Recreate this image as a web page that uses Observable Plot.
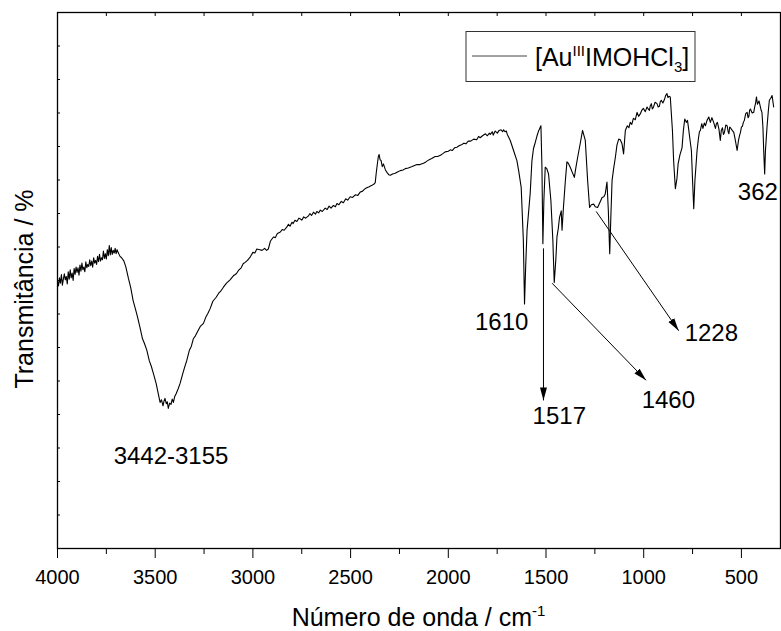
<!DOCTYPE html>
<html><head><meta charset="utf-8">
<script src="https://cdn.jsdelivr.net/npm/d3@7"></script>
<script src="https://cdn.jsdelivr.net/npm/@observablehq/plot@0.6"></script>
<style>
body{margin:0;background:#fff;}
svg{font-family:"Liberation Sans",Arial,sans-serif;}
</style>
</head><body><div id="chart"></div>
<script>
// Spectrum (wavenumber in cm-1, transmittance in arbitrary %)
const wavenumber = [4000,3995,3990,3985,3980,3975,3970,3965,3960,3955,3950,3945,3940,3935,3930,3925,3920,3915,3910,3905,3900,3895,3890,3885,3880,3875,3870,3865,3860,3855,3850,3845,3840,3835,3830,3825,3820,3815,3810,3805,3800,3795,3790,3785,3780,3775,3770,3765,3760,3755,3750,3745,3740,3735,3730,3725,3720,3715,3710,3705,3700,3695,3690,3685,3680,3672,
3660,3650,3637,3625,3613,3600,3590,3578,3565,3555,3543,3530,3520,3509,3495,3485,3475,3468,3460,3455,3450,3443,3438,3433,3426,3419,3413,3407,3400,3393,3383,3373,3360,3350,3338,3325,3315,3305,3295,3281,3268,3253,3240,3230,3219,3205,3188,3175,3165,3151,3135,3117,3100,3085,3074,3060,3050,3040,3028,3014,3000,2990,2980,2965,2953,2940,2930,2921,2910,2895,2885,2875,2861,2850,2840,2826,2818,2810,2800,2794,2785,2775,2765,2758,2750,2740,2730,2717,2708,2700,2690,2680,2673,2663,2655,2645,2630,2620,2610,2600,2588,2578,2570,2560,2548,2537,2525,2515,2502,2490,2475,2463,2451,2440,2430,2420,2405,2391,2380,2374,2369,2364,2358,2354,2349,2344,2338,2332,2322,2313,2305,2297,2285,2272,2260,2246,2232,2220,2205,2185,2170,2160,2145,2127,2115,2100,2085,2067,2055,2040,2030,2016,2000,1990,1980,1968,1956,1945,1930,1920,1910,1898,1885,1870,1855,1845,1837,1825,1810,1800,1790,1785,1775,1770,1760,1749,1740,1730,1722,1717,1710,1703,1698,
1683,1666,1649,1640,1627,1616,1610,1604,1597,1581,1572,1564,1555,1546,1537,1526,1521,1516,1511,1504,1496,1487,1475,1465,1458,1450,1444,1437,1431,1422,1418,1412,1401,1393,1386,1376,1365,1355,1348,1338,1324,1313,1299,1287,1277,1268,1256,1248,1236,1225,1213,1204,1197,1188,1181,1174,1168,1162,1154,1145,1137,1128,1120,1111,1103,1094,1084,1076,1069,1061,1053,1043,1034,1026,1017,1010,1002,992,983,977,971,966,961,956,951,942,932,926,920,915,910,902,894,888,881,876,871,864,853,847,838,830,824,815,804,797,790,782,776,770,764,756,749,744,738,727,720,715,710,703,697,690,684,676,667,659,651,642,633,628,623,615,608,603,597,592,587,580,573,568,564,560,556,547,539,531,522,515,510,505,500,495,490,485,478,471,466,462,458,454,445,437,432,428,423,418,410,403,399,395,390,386,381,377,369,362,357,350,343,335,326,319,312,304];
const transmittance = [39.9,39.2,40.4,39.6,40.9,39.3,40.2,41.0,40.1,40.6,39.5,41.3,40.2,41.6,40.4,41.1,40.0,41.8,40.9,42.0,41.2,41.9,40.8,42.3,41.4,42.6,41.6,42.0,41.3,42.8,41.9,42.4,42.1,43.1,42.2,42.9,42.0,43.4,42.6,43.0,42.4,43.6,42.8,43.9,42.9,43.4,43.1,44.4,43.3,44.0,43.2,44.6,43.7,45.2,43.8,44.9,43.9,44.5,44.1,44.8,44.0,44.6,44.2,43.9,43.6,43.4,
42.9,42.0,40.3,38.9,37.0,35.6,34.5,33.0,31.3,30.6,29.6,28.0,27.2,26.1,24.6,23.2,21.8,22.2,21.3,22.0,22.4,21.6,21.9,20.9,21.7,21.5,22.3,21.8,22.7,23.1,23.8,24.6,26.0,27.0,28.1,29.6,30.2,31.3,31.7,32.5,33.2,33.6,34.6,35.1,35.8,36.9,37.5,38.1,38.4,39.0,39.6,40.1,40.7,41.0,41.5,41.9,42.5,42.7,43.0,43.5,44.2,44.1,44.7,44.6,44.5,44.8,44.5,44.7,45.9,46.5,46.4,47.0,47.2,47.6,47.5,48.0,48.4,48.1,48.7,48.5,49.0,48.8,49.3,49.2,49.0,49.5,49.3,49.6,50.0,49.7,50.2,49.9,50.3,50.1,50.5,50.3,50.8,50.6,51.1,50.8,51.2,51.0,51.5,51.3,51.8,51.6,52.2,52.0,52.5,52.4,52.8,52.7,53.2,53.3,53.6,53.8,54.0,54.2,54.4,54.6,56.0,57.2,58.5,58.8,58.0,57.9,57.0,57.4,56.5,56.1,55.8,55.7,55.9,56.0,56.2,56.4,56.5,56.7,56.8,57.0,57.2,57.3,57.3,57.5,57.7,58.0,58.2,58.5,58.5,58.7,58.9,59.2,59.3,59.5,59.4,59.8,59.9,60.1,60.3,60.5,60.4,60.8,60.8,61.1,61.0,61.5,61.3,61.6,61.9,61.6,62.0,61.8,62.2,61.7,62.3,62.0,62.4,62.5,62.2,62.5,62.2,62.3,61.8,
60.9,59.4,57.9,56.4,53.9,46.0,36.5,42.2,47.5,53.0,57.9,59.7,60.6,61.6,62.4,63.1,57.2,45.5,51.9,56.9,56.7,55.9,51.9,46.0,39.7,43.0,46.5,47.8,49.4,50.4,47.5,50.4,54.9,57.7,57.5,56.9,56.1,55.4,56.7,58.4,60.6,62.4,60.9,54.9,50.9,51.3,51.4,51.0,50.9,51.6,52.4,52.5,52.9,54.7,50.4,44.0,49.7,54.9,56.7,58.4,60.2,61.1,61.0,60.4,58.9,62.4,63.1,62.8,63.6,63.3,64.2,64.0,65.1,64.5,64.9,65.4,65.7,65.2,65.9,65.6,65.4,66.1,66.4,65.6,65.8,66.6,66.4,65.9,66.0,66.7,66.9,66.5,67.0,67.6,67.9,67.3,67.5,67.4,62.4,57.9,53.7,55.2,57.4,58.7,59.8,62.4,64.1,63.6,63.9,62.6,61.2,59.4,54.2,50.7,54.9,59.4,61.2,62.2,62.4,63.4,62.7,63.5,63.1,63.9,64.4,63.6,64.3,63.6,62.7,63.4,63.6,62.6,60.9,62.4,62.8,61.8,62.1,63.2,63.1,62.2,61.9,62.9,62.8,62.4,62.1,60.9,59.4,60.9,61.6,62.1,62.9,63.0,63.6,63.9,64.9,65.1,64.3,64.5,65.4,65.6,65.0,65.1,65.9,66.4,67.4,66.3,66.8,65.9,65.4,65.1,62.9,59.4,55.9,59.4,62.9,65.4,66.9,67.2,67.6,65.9];

// Axis ticks
const xTicks = [4000,3500,3000,2500,2000,1500,1000,500];
const xMinor = [3750,3250,2750,2250,1750,1250,750];
const yTicks = [0,5,10,15,20,25,30,35,40,45,50,55,60,65,70,75,80];

// Peak annotations
const labelText = ["3442-3155","1610","1517","1460","1228","362"];
const labelX = [3419,1727,1432,874,654,416];
const labelY = [13.8,33.8,19.7,22.1,32.1,53.2];

// Arrows (from peak to label)
const arrowX1 = [1513,1469,1243];
const arrowY1 = [44.8,39.6,50.3];
const arrowX2 = [1513,988,821];
const arrowY2 = [22.1,25.1,32.5];

const spectrum = wavenumber.map((w,i)=>({w, t: transmittance[i]}));
const labels = labelText.map((s,i)=>({s, x: labelX[i], y: labelY[i]}));
const arrows = arrowX1.map((x1,i)=>({x1, y1: arrowY1[i], x2: arrowX2[i], y2: arrowY2[i]}));

const W = 781, H = 631, mL = 57, mR = 1, mT = 12, mB = 83;

const svg = Plot.plot({
  width: W, height: H,
  marginLeft: mL, marginRight: mR, marginTop: mT, marginBottom: mB,
  style: {fontFamily: '"Liberation Sans", Arial, sans-serif', fontSize: "20px", color: "black", background: "white"},
  x: {domain: [4000, 300]},
  y: {domain: [0, 80]},
  marks: [
    Plot.axisX(xTicks, {anchor: "bottom", tickSize: 10, tickPadding: 11, fontSize: 20, tickFormat: d => String(d), label: null}),
    Plot.axisX(xMinor, {anchor: "bottom", tickSize: 6, fill: "none", label: null}),
    Plot.axisX(xTicks.concat(xMinor), {anchor: "top", tickSize: -3, fill: "none", label: null}),
    Plot.axisY(yTicks, {anchor: "left", tickSize: -3, fill: "none", label: null}),
    Plot.frame({stroke: "black", strokeWidth: 1.3}),
    Plot.line(spectrum, {x: "w", y: "t", stroke: "black", strokeWidth: 1.1}),
    Plot.link(arrows, {x1: "x1", y1: "y1", x2: "x2", y2: "y2", stroke: "black", strokeWidth: 1}),
    Plot.text(labels, {x: "x", y: "y", text: "s", fontSize: 24, fill: "black", textAnchor: "middle"})
  ]
});

const s = d3.select(svg);
// filled arrowheads
const defs = s.append("defs");
defs.append("marker").attr("id","ah").attr("viewBox","0 -4 13 8")
  .attr("refX",13).attr("refY",0).attr("markerWidth",13).attr("markerHeight",8)
  .attr("markerUnits","userSpaceOnUse").attr("orient","auto")
  .append("path").attr("d","M0,-3.5L13,0L0,3.5Z").attr("fill","black");
s.selectAll('g[aria-label="link"] path').attr("marker-end","url(#ah)");

// axis titles
const cx = mL + (W - mL - mR) / 2;
const xt = s.append("text").attr("x", cx).attr("y", 626).attr("text-anchor","middle")
  .attr("font-size", 25).attr("fill","black");
xt.append("tspan").text("Número de onda / cm");
xt.append("tspan").attr("dy", -10).attr("font-size", 15).text("-1");

s.append("text").attr("transform","translate(33,289) rotate(-90)").attr("text-anchor","middle")
  .attr("font-size", 25).attr("fill","black").text("Transmitância / %");

// legend
const lg = s.append("g");
lg.append("rect").attr("x",466).attr("y",31.5).attr("width",229).attr("height",50)
  .attr("fill","white").attr("stroke","#333").attr("stroke-width",1);
lg.append("line").attr("x1",472).attr("x2",527).attr("y1",56).attr("y2",56)
  .attr("stroke","#444").attr("stroke-width",1);
const lt = lg.append("text").attr("x",535).attr("y",66).attr("font-size",25)
  .attr("fill","black").attr("text-anchor","start");
lt.append("tspan").text("[Au");
lt.append("tspan").attr("dy",-10).attr("font-size",15).text("III");
lt.append("tspan").attr("dy",10).text("IMOHCl");
lt.append("tspan").attr("dy",6).attr("font-size",15).text("3");
lt.append("tspan").attr("dy",-6).text("]");

document.getElementById("chart").appendChild(svg);
</script>
</body></html>
